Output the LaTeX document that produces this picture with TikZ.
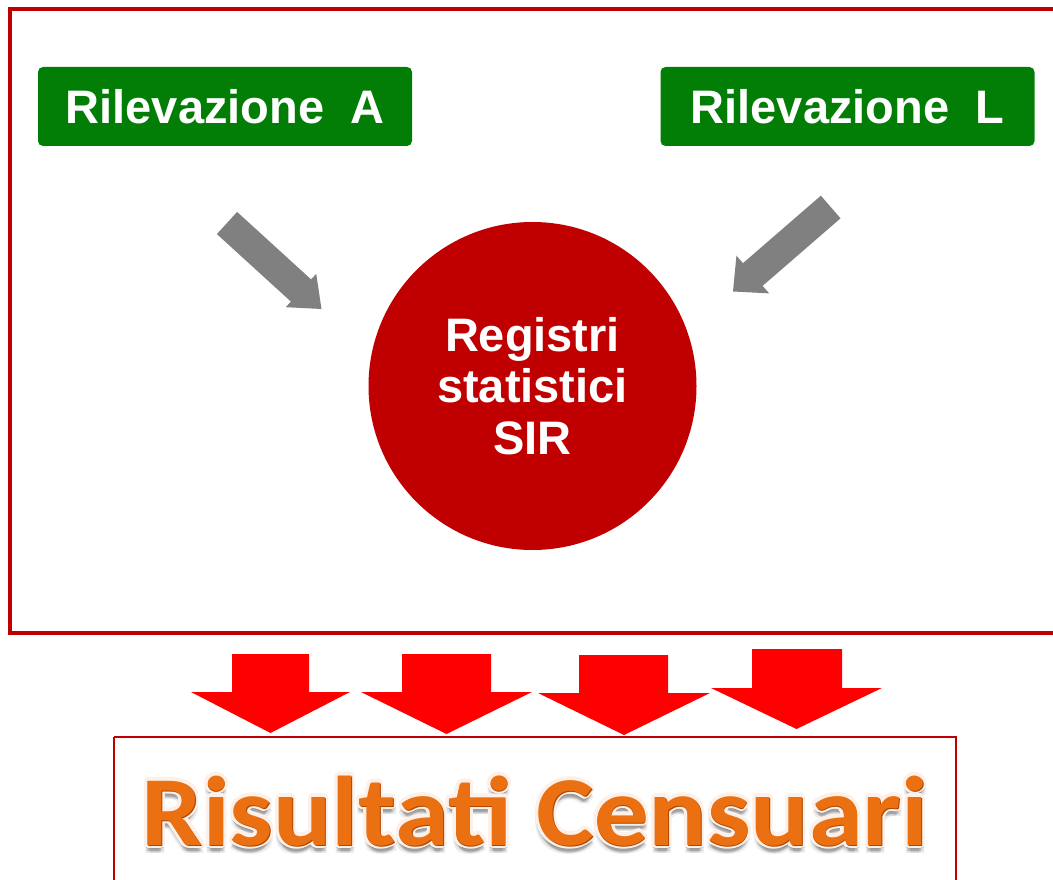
\documentclass[tikz,border=0pt]{standalone}
\usepackage{fontspec}
\setmainfont{Liberation Sans}
\newfontfamily\calib{Carlito}
\usetikzlibrary{calc}
\definecolor{framered}{RGB}{192,0,0}
\definecolor{boxgreen}{RGB}{2,126,6}
\definecolor{circred}{RGB}{192,0,0}
\definecolor{arrgray}{RGB}{128,128,128}
\definecolor{arrred}{RGB}{255,0,0}
\definecolor{orangemain}{RGB}{234,112,18}
\definecolor{orangedark}{RGB}{176,70,0}
\definecolor{glow}{RGB}{253,240,232}
\newcommand{\blockarr}[5]{%
  \fill[arrgray] ($(#1)!#4!90:(#2)$) -- ($(#2)!#4!-90:(#1)$) -- ($(#2)!#5!-90:(#1)$) -- (#3)
    -- ($(#2)!#5!90:(#1)$) -- ($(#2)!#4!90:(#1)$) -- ($(#1)!#4!-90:(#2)$) -- cycle;}
\newcommand{\downarr}[8]{%
  \fill[arrred] (#1,#3) -- (#2,#3) -- (#2,#4) -- (#6,#4) -- (#7,#8) -- (#5,#4) -- (#1,#4) -- cycle;}
\tikzset{
  rilev/.style={fill=boxgreen, rounded corners=5pt, minimum width=374pt, minimum height=79pt,
    inner sep=0pt, text height=34pt, text depth=0pt, text=white,
    font=\fontsize{47}{47}\selectfont\bfseries},
  sirnode/.style={circle, fill=circred, minimum size=328pt, inner sep=0pt, text=white,
    align=center, font=\fontsize{47}{51.5}\selectfont\bfseries},
  rc/.style={inner sep=0pt, anchor=base, font=\calib\bfseries\fontsize{99}{99}\selectfont},
  frameline/.style={draw=framered, line width=3.5pt},
  resline/.style={draw=framered, line width=2pt}
}
\newcommand{\rctext}{\scalebox{1.1}[1]{Risultati Censuari}}
\begin{document}
\begin{tikzpicture}[x=1pt,y=-1pt]
\useasboundingbox (0,0) rectangle (1053,880);
\clip (0,0) rectangle (1053,880);
% outer frame
\draw[frameline] (1075,9) -- (10,9) -- (10,633) -- (1075,633);
% green boxes
\node[rilev] (A) at (225,106.5) {Rilevazione\ \ A};
\node[rilev] (L) at (847.5,106.5) {Rilevazione\ \ L};
% circle
\node[sirnode] (SIR) at (532.5,386) {Registri\\statistici\\SIR};
% gray arrows
\coordinate (taA) at (227,223);
\coordinate (baA) at (301,290.5);
\coordinate (tipA) at (321.5,309);
\blockarr{taA}{baA}{tipA}{15pt}{22.6pt}
\coordinate (taL) at (830.7,207);
\coordinate (baL) at (752.8,274.5);
\coordinate (tipL) at (733,291.5);
\blockarr{taL}{baL}{tipL}{15pt}{25pt}
% red arrows
\downarr{232}{309}{654}{692}{191}{350}{270.5}{733}
\downarr{402}{491}{654}{692}{361}{532}{446.5}{734}
\downarr{579}{668}{655}{693}{538}{710}{624}{735}
\downarr{752}{842}{649}{688}{711}{882}{796.5}{729}
% result box
\draw[resline] (114,737) -- (956,737) -- (956,900);
\draw[resline] (114,737) -- (114,900);
% result text: shadow
\foreach \dx/\dy [count=\k] in {0/0,1.5/0,-1.5/0,0/1.5,0/-1.5,2.5/2.5,-2.5/2.5,2.5/-2.5,-2.5/-2.5}
  \node[rc, text=black, opacity=0.07] (sh\k) at (535+\dx,851+\dy) {\rctext};
% glow outline
\foreach \a in {0,22.5,...,337.5}
  \node[rc, text=glow] (gl\a) at ($(535,845)+(\a:3.2pt)$) {\rctext};
% bevel and fill
\node[rc, text=orangedark] (rcd) at (535.7,846.4) {\rctext};
\node[rc, text=orangemain] (rct) at (535,845) {\rctext};
\end{tikzpicture}
\end{document}
